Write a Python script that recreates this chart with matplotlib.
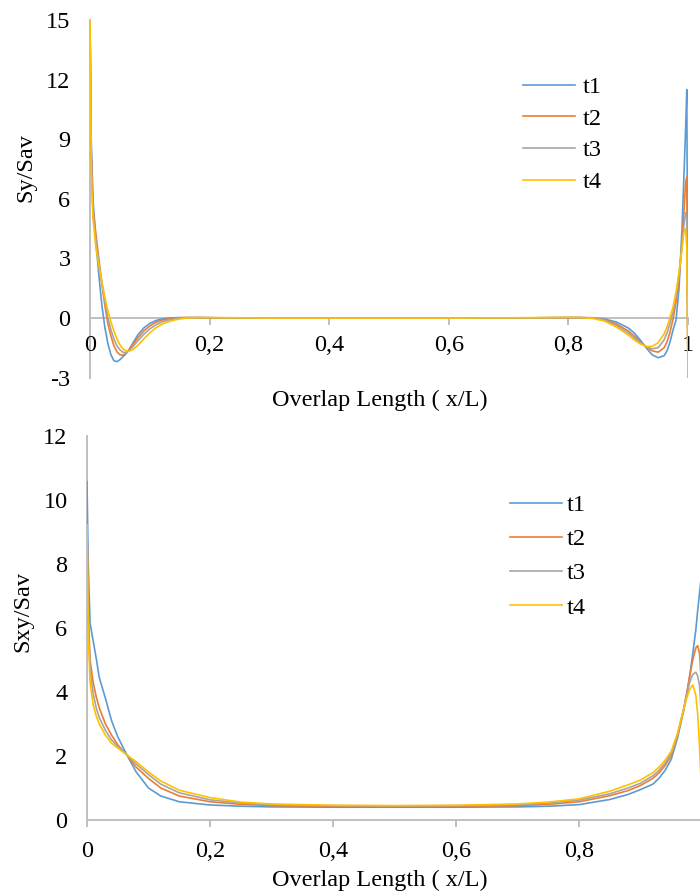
import matplotlib
matplotlib.use("Agg")
import matplotlib.pyplot as plt

# ---------------- data: top chart (Sy/Sav) ----------------
x_top = [0, 0.002, 0.005, 0.01, 0.015, 0.02, 0.025, 0.03, 0.035, 0.04, 0.045, 0.05,
         0.055, 0.06, 0.065, 0.07, 0.08, 0.09, 0.1, 0.11, 0.12, 0.13, 0.14, 0.15,
         0.16, 0.18, 0.2, 0.25, 0.3, 0.4, 0.5, 0.6, 0.7, 0.75, 0.8, 0.82, 0.84,
         0.86, 0.88, 0.9, 0.91, 0.92, 0.93, 0.94, 0.95, 0.96, 0.965, 0.97, 0.975,
         0.98, 0.985, 0.99, 0.993, 0.996, 0.998, 1.0]
sy_t1 = [15, 9.0, 6.0, 3.8, 2.1, 0.6, -0.5, -1.3, -1.85, -2.15, -2.2, -2.1,
         -1.95, -1.8, -1.6, -1.35, -0.85, -0.5, -0.27, -0.13, -0.05, -0.01, 0.01, 0.02,
         0.02, 0.02, 0.01, 0.0, 0.0, 0.0, 0.0, 0.0, 0.0, 0.01, 0.02, 0.02, 0.0,
         -0.05, -0.2, -0.5, -0.75, -1.1, -1.5, -1.85, -2.0, -1.9, -1.65, -1.2, -0.6,
         -0.1, 1.5, 4.5, 7.0, 9.5, 11.5, -3.0]
sy_t2 = [15, 8.5, 5.5, 4.2, 2.9, 1.7, 0.6, -0.3, -0.9, -1.4, -1.7, -1.85,
         -1.87, -1.78, -1.62, -1.4, -1.0, -0.65, -0.4, -0.22, -0.11, -0.05, -0.01, 0.01,
         0.02, 0.02, 0.01, 0.0, 0.0, 0.0, 0.0, 0.0, 0.0, 0.01, 0.02, 0.02, 0.01,
         -0.08, -0.3, -0.65, -0.9, -1.2, -1.45, -1.65, -1.72, -1.5, -1.2, -0.7, -0.05,
         0.8, 2.0, 3.8, 5.2, 6.8, 7.1, -3.0]
sy_t3 = [15, 8.0, 5.2, 3.9, 2.75, 1.75, 0.8, 0.0, -0.6, -1.05, -1.4, -1.6,
         -1.72, -1.74, -1.66, -1.5, -1.15, -0.82, -0.55, -0.35, -0.2, -0.11, -0.05, -0.01,
         0.01, 0.02, 0.02, 0.0, 0.0, 0.0, 0.0, 0.0, 0.0, 0.01, 0.02, 0.02, 0.01,
         -0.1, -0.38, -0.75, -1.0, -1.25, -1.45, -1.55, -1.5, -1.1, -0.75, -0.25, 0.3,
         1.1, 2.2, 3.6, 4.6, 5.3, 5.0, -3.0]
sy_t4 = [15, 7.5, 5.0, 3.5, 2.6, 1.8, 1.0, 0.35, -0.2, -0.65, -1.05, -1.35,
         -1.55, -1.65, -1.67, -1.62, -1.38, -1.05, -0.75, -0.5, -0.32, -0.2, -0.11, -0.05,
         -0.01, 0.02, 0.02, 0.01, 0.0, 0.0, 0.0, 0.0, 0.01, 0.02, 0.03, 0.02, -0.02,
         -0.15, -0.45, -0.85, -1.1, -1.3, -1.43, -1.43, -1.25, -0.8, -0.45, 0.05, 0.55,
         1.3, 2.3, 3.5, 4.3, 4.5, 3.5, -3.0]

# ---------------- data: bottom chart (Sxy/Sav) ----------------
x_bot = [0, 0.002, 0.005, 0.01, 0.015, 0.02, 0.03, 0.04, 0.05, 0.065, 0.08, 0.1,
         0.12, 0.15, 0.2, 0.25, 0.3, 0.4, 0.5, 0.6, 0.7, 0.75, 0.8, 0.85, 0.88, 0.9,
         0.92, 0.93, 0.94, 0.95, 0.96, 0.97, 0.975, 0.98, 0.985, 0.99, 0.993, 0.996, 1.0]
sxy_t1 = [10.57, 8.0, 6.15, 5.6, 5.05, 4.45, 3.8, 3.1, 2.6, 2.03, 1.5, 1.0,
          0.75, 0.57, 0.47, 0.43, 0.41, 0.40, 0.40, 0.40, 0.41, 0.43, 0.48, 0.64, 0.8, 0.95,
          1.12, 1.3, 1.55, 1.9, 2.55, 3.4, 3.9, 4.5, 5.2, 5.95, 6.55, 7.1, 7.8]
sxy_t2 = [9.22, 6.5, 5.0, 4.3, 3.85, 3.5, 3.0, 2.65, 2.35, 2.03, 1.65, 1.3,
          1.0, 0.75, 0.57, 0.49, 0.45, 0.43, 0.43, 0.43, 0.45, 0.49, 0.57, 0.76, 0.92, 1.08,
          1.3, 1.47, 1.7, 2.02, 2.62, 3.45, 3.95, 4.5, 5.0, 5.38, 5.45, 5.2, 4.0]
sxy_t3 = [9.2, 6.2, 4.7, 3.95, 3.5, 3.2, 2.8, 2.5, 2.3, 2.03, 1.75, 1.42,
          1.12, 0.85, 0.63, 0.53, 0.48, 0.45, 0.44, 0.45, 0.48, 0.53, 0.62, 0.82, 1.0, 1.15,
          1.38, 1.55, 1.78, 2.08, 2.65, 3.45, 3.9, 4.3, 4.55, 4.62, 4.5, 4.2, 3.0]
sxy_t4 = [9.22, 5.8, 4.3, 3.6, 3.25, 3.0, 2.65, 2.4, 2.25, 2.03, 1.82, 1.5,
          1.22, 0.93, 0.7, 0.56, 0.5, 0.46, 0.45, 0.46, 0.5, 0.56, 0.66, 0.9, 1.1, 1.25,
          1.48, 1.65, 1.87, 2.15, 2.7, 3.45, 3.8, 4.08, 4.22, 3.9, 3.3, 2.3, 0.5]

labels = ["t1", "t2", "t3", "t4"]
colors = ["#5B9BD5", "#ED7D31", "#A5A5A5", "#FFC000"]

top_yticks = [-3, 0, 3, 6, 9, 12, 15]
top_xticks = [0, 0.2, 0.4, 0.6, 0.8, 1.0]
top_xticklabels = ["0", "0,2", "0,4", "0,6", "0,8", "1"]
bot_yticks = [0, 2, 4, 6, 8, 10, 12]
bot_xticks = [0, 0.2, 0.4, 0.6, 0.8]
bot_xticklabels = ["0", "0,2", "0,4", "0,6", "0,8"]

plt.rcParams['font.family'] = ['Liberation Serif', 'DejaVu Serif']
FS = 17.5
AX_COL = "#BFBFBF"

W, H = 700, 894
fig = plt.figure(figsize=(W / 100, H / 100), dpi=100)


def fx(px):
    return px / W


def fy(py):
    return 1 - py / H


def style(ax):
    for s in ["top", "right"]:
        ax.spines[s].set_visible(False)
    for s in ["left", "bottom"]:
        ax.spines[s].set_color(AX_COL)
        ax.spines[s].set_linewidth(1.4)
        ax.spines[s].set_zorder(1)
    ax.tick_params(axis="y", length=0, pad=14, labelsize=FS, colors="black")
    ax.tick_params(axis="x", length=5, width=1.4, color=AX_COL, direction="out",
                   pad=8, labelsize=FS, labelcolor="black")
    ax.patch.set_alpha(0)


# ---- top chart ----
ax1 = fig.add_axes([fx(90), fy(377.6), 598 / W, 357.6 / H])
ys_top = [sy_t1, sy_t2, sy_t3, sy_t4]
for y, c, lab in zip(ys_top, colors, labels):
    ax1.plot(x_top, y, color=c, lw=1.2, label=lab, zorder=3)
ax1.set_xlim(0, 1)
ax1.set_ylim(-3, 15)
ax1.set_yticks(top_yticks)
ax1.set_yticklabels([str(v) for v in top_yticks])
ax1.set_xticks(top_xticks)
ax1.set_xticklabels(top_xticklabels)
style(ax1)
ax1.spines["bottom"].set_position(("data", 0))
ax1.tick_params(axis="x", pad=7)
fig.text(fx(26), fy(168), "Sy/Sav", rotation=90, ha="center", va="center", fontsize=FS)
fig.text(fx(380), fy(400), "Overlap Length ( x/L)", ha="center", va="center", fontsize=FS)
ax1.legend(loc="upper left", bbox_to_anchor=(fx(523), fy(76)), bbox_transform=fig.transFigure,
           frameon=False, fontsize=FS, handlelength=2.15, handletextpad=0.3,
           labelspacing=0.4, borderaxespad=0, borderpad=0)

# ---- bottom chart ----
ax2 = fig.add_axes([fx(87), fy(820), 615 / W, 384 / H])
ys_bot = [sxy_t1, sxy_t2, sxy_t3, sxy_t4]
for y, c, lab in zip(ys_bot, colors, labels):
    ax2.plot(x_bot, y, color=c, lw=1.2, label=lab, zorder=3)
ax2.set_xlim(0, 1)
ax2.set_ylim(0, 12)
ax2.set_yticks(bot_yticks)
ax2.set_yticklabels([str(v) for v in bot_yticks])
ax2.set_xticks(bot_xticks)
ax2.set_xticklabels(bot_xticklabels)
style(ax2)
ax2.tick_params(axis="x", pad=10)
fig.text(fx(23), fy(612), "Sxy/Sav", rotation=90, ha="center", va="center", fontsize=FS)
fig.text(fx(380), fy(880), "Overlap Length ( x/L)", ha="center", va="center", fontsize=FS)
ax2.legend(loc="upper left", bbox_to_anchor=(fx(510), fy(494)), bbox_transform=fig.transFigure,
           frameon=False, fontsize=FS, handlelength=2.15, handletextpad=0.2,
           labelspacing=0.5, borderaxespad=0, borderpad=0)

fig.savefig("out.png", dpi=100)
